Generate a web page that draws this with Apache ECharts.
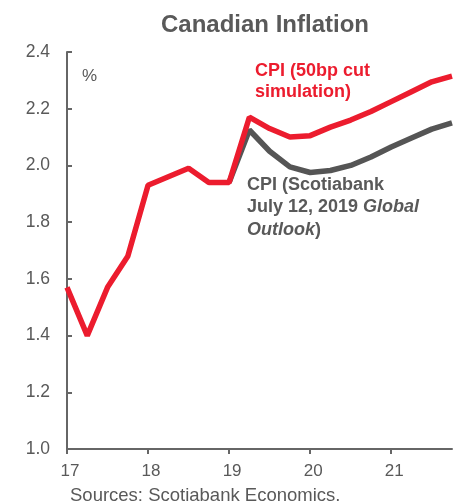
<!DOCTYPE html>
<html>
<head>
<meta charset="utf-8">
<script src="https://cdn.jsdelivr.net/npm/echarts@6/dist/echarts.min.js"></script>
<style>
  html, body { margin: 0; padding: 0; background: #fff; }
  #chart { width: 458px; height: 504px; }
</style>
</head>
<body>
<div id="chart"></div>
<script>
// quarters 2017Q1 .. 2021Q4
var quarters = ['17Q1','17Q2','17Q3','17Q4','18Q1','18Q2','18Q3','18Q4',
                '19Q1','19Q2','19Q3','19Q4','20Q1','20Q2','20Q3','20Q4',
                '21Q1','21Q2','21Q3','21Q4']

// CPI, 50bp cut simulation (red)
var cpiCut = [1.57, 1.40, 1.57, 1.68, 1.93, 1.96, 1.99, 1.94,
              1.94, 2.17, 2.13, 2.10, 2.105, 2.135, 2.16, 2.19,
              2.225, 2.26, 2.295, 2.315]

// CPI, Scotiabank July 12 2019 Global Outlook (gray) - forecast branch
var cpiBase = [null, null, null, null, null, null, null, null,
               1.94, 2.125, 2.05, 1.995, 1.975, 1.982, 2.0, 2.03,
               2.065, 2.097, 2.128, 2.15]

var yTicks = { min: 1.0, max: 2.4, step: 0.2 }

var gray = '#595959'
var red = '#ec1c2e'
var font = 'Liberation Sans, Arial, sans-serif'

var myChart = echarts.init(document.getElementById('chart'))

myChart.setOption({
    backgroundColor: '#fff',
    animation: false,
    title: {
        text: 'Canadian Inflation',
        left: 156,
        top: 8,
        textStyle: { fontFamily: font, fontSize: 24, fontWeight: 'bold', color: gray }
    },
    grid: { left: 67, right: 6, top: 52, bottom: 55 },
    xAxis: {
        type: 'category',
        data: quarters,
        boundaryGap: false,
        axisLine: { lineStyle: { color: '#666', width: 2 } },
        axisTick: { interval: 3, length: 5, lineStyle: { color: '#666', width: 2 } },
        axisLabel: {
            interval: 3,
            margin: 14,
            padding: [0, 0, 0, 6],
            color: gray,
            fontFamily: font,
            fontSize: 17,
            formatter: function (v) { return v.slice(0, 2) }
        },
        splitLine: { show: false }
    },
    yAxis: {
        type: 'value',
        min: yTicks.min,
        max: yTicks.max,
        interval: yTicks.step,
        axisLine: { show: true, lineStyle: { color: '#666', width: 2 } },
        axisTick: { show: true, inside: true, length: 5, lineStyle: { color: '#666', width: 2 } },
        axisLabel: {
            margin: 17,
            color: gray,
            fontFamily: font,
            fontSize: 17.5,
            formatter: function (v) { return v.toFixed(1) }
        },
        splitLine: { show: false }
    },
    graphic: [
        { type: 'text', left: 82, top: 68,
          style: { text: '%', fill: gray, font: '17px ' + font } },
        { type: 'text', left: 255, top: 61,
          style: { text: 'CPI (50bp cut\nsimulation)', fill: red, font: 'bold 18px ' + font, lineHeight: 21 } },
        { type: 'text', left: 247, top: 176,
          style: {
              text: '{b|CPI (Scotiabank}\n{b|July 12, 2019 }{i|Global}\n{i|Outlook}{b|)}',
              fill: gray,
              rich: {
                  b: { fontFamily: font, fontSize: 18, fontWeight: 'bold', fill: gray, lineHeight: 22.5 },
                  i: { fontFamily: font, fontSize: 18, fontWeight: 'bold', fontStyle: 'italic', fill: gray, lineHeight: 22.5 }
              }
          } },
        { type: 'text', left: 70, top: 486,
          style: { text: 'Sources: Scotiabank Economics.', fill: gray, font: '18.5px ' + font } }
    ],
    series: [
        {
            name: 'CPI (Scotiabank)',
            type: 'line',
            data: cpiBase,
            symbol: 'none',
            lineStyle: { color: '#555', width: 5.5 },
            z: 2
        },
        {
            name: 'CPI (50bp cut)',
            type: 'line',
            data: cpiCut,
            symbol: 'none',
            lineStyle: { color: red, width: 5.5 },
            z: 3
        }
    ]
})
</script>
</body>
</html>
